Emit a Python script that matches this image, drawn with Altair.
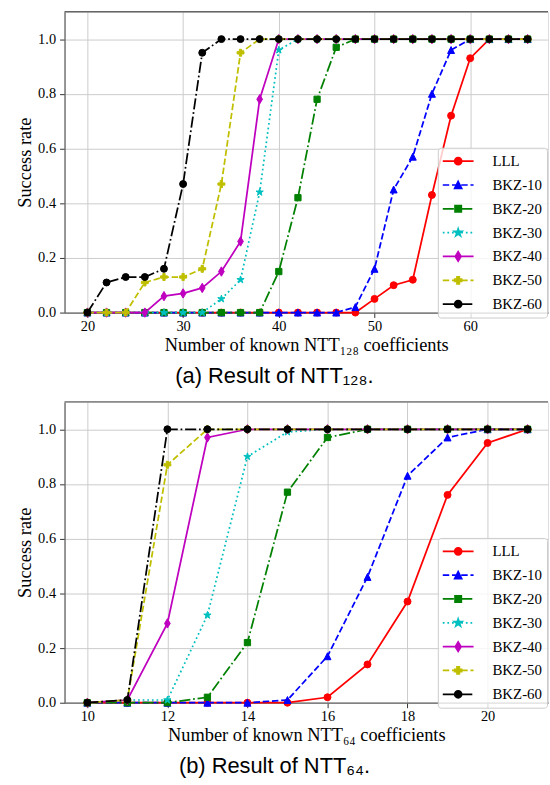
import math
import altair as alt
import pandas as pd

# ---------------- data ----------------
SERIES = ["LLL", "BKZ-10", "BKZ-20", "BKZ-30", "BKZ-40", "BKZ-50", "BKZ-60"]

X_128 = [20, 22, 24, 26, 28, 30, 32, 34, 36, 38, 40, 42, 44, 46, 48, 50, 52, 54, 56, 58, 60, 62, 64, 66]
A_LLL = [0, 0, 0, 0, 0, 0, 0, 0, 0, 0, 0, 0, 0, 0, 0, 0.05, 0.10, 0.12, 0.43, 0.72, 0.93, 1.0, 1.0, 1.0]
A_BKZ10 = [0, 0, 0, 0, 0, 0, 0, 0, 0, 0, 0, 0, 0, 0, 0.02, 0.16, 0.45, 0.57, 0.80, 0.96, 1.0, 1.0, 1.0, 1.0]
A_BKZ20 = [0, 0, 0, 0, 0, 0, 0, 0, 0, 0, 0.15, 0.42, 0.78, 0.97, 1.0, 1.0, 1.0, 1.0, 1.0, 1.0, 1.0, 1.0, 1.0, 1.0]
A_BKZ30 = [0, 0, 0, 0, 0, 0, 0, 0.05, 0.12, 0.44, 0.96, 1.0, 1.0, 1.0, 1.0, 1.0, 1.0, 1.0, 1.0, 1.0, 1.0, 1.0, 1.0, 1.0]
A_BKZ40 = [0, 0, 0, 0, 0.06, 0.07, 0.09, 0.15, 0.26, 0.78, 1.0, 1.0, 1.0, 1.0, 1.0, 1.0, 1.0, 1.0, 1.0, 1.0, 1.0, 1.0, 1.0, 1.0]
A_BKZ50 = [0, 0, 0, 0.11, 0.13, 0.13, 0.16, 0.47, 0.95, 1.0, 1.0, 1.0, 1.0, 1.0, 1.0, 1.0, 1.0, 1.0, 1.0, 1.0, 1.0, 1.0, 1.0, 1.0]
A_BKZ60 = [0, 0.11, 0.13, 0.13, 0.16, 0.47, 0.95, 1.0, 1.0, 1.0, 1.0, 1.0, 1.0, 1.0, 1.0, 1.0, 1.0, 1.0, 1.0, 1.0, 1.0, 1.0, 1.0, 1.0]

X_64 = [10, 11, 12, 13, 14, 15, 16, 17, 18, 19, 20, 21]
B_LLL = [0, 0, 0, 0, 0, 0, 0.02, 0.14, 0.37, 0.76, 0.95, 1.0]
B_BKZ10 = [0, 0, 0, 0, 0, 0.01, 0.17, 0.46, 0.83, 0.97, 1.0, 1.0]
B_BKZ20 = [0, 0, 0, 0.02, 0.22, 0.77, 0.97, 1.0, 1.0, 1.0, 1.0, 1.0]
B_BKZ30 = [0, 0.01, 0.01, 0.32, 0.90, 0.99, 1.0, 1.0, 1.0, 1.0, 1.0, 1.0]
B_BKZ40 = [0, 0.01, 0.29, 0.97, 1.0, 1.0, 1.0, 1.0, 1.0, 1.0, 1.0, 1.0]
B_BKZ50 = [0, 0.01, 0.87, 1.0, 1.0, 1.0, 1.0, 1.0, 1.0, 1.0, 1.0, 1.0]
B_BKZ60 = [0, 0.01, 1.0, 1.0, 1.0, 1.0, 1.0, 1.0, 1.0, 1.0, 1.0, 1.0]

X_TICKS_128 = [20, 30, 40, 50, 60]
X_TICKS_64 = [10, 12, 14, 16, 18, 20]
Y_TICKS = [0.0, 0.2, 0.4, 0.6, 0.8, 1.0]

TITLE_X_128 = "Number of known NTT\u2081\u2082\u2088 coefficients"
TITLE_X_64 = "Number of known NTT\u2086\u2084 coefficients"
CAPTION_128 = "(a) Result of NTT\u2081\u2082\u2088."
CAPTION_64 = "(b) Result of NTT\u2086\u2084."
Y_TITLE = "Success rate"

# ---------------- styles ----------------
COLORS = ["#ff0000", "#0000ff", "#008000", "#00bfbf", "#bf00bf", "#bfbf00", "#000000"]
LINESTYLES = ["solid", "dashed", "dashdot", "dotted", "solid", "dashed", "dashdot"]
MARKERS = ["circle", "triangle", "square", "star", "thin_diamond", "plus", "circle"]
DASH_PX = {"solid": None, "dashed": [6.5, 2.8], "dashdot": [11.2, 2.8, 1.75, 2.8], "dotted": [1.75, 2.9]}

LW = 1.75
PT_R = 3.5          # marker radius in px
PT_SIZE = (2 * PT_R) ** 2
LEG_SIZE = 225      # legend symbol size -> scale 7.5 px per unit
LEG_K = math.sqrt(LEG_SIZE) / 2
LEG_LEN = 31.0

SERIF = "Liberation Serif"
SANS = "Liberation Sans"

W, H = 487, 303


def marker_pts(kind):
    if kind == "triangle":
        return [(0, -1), (1, 1), (-1, 1)]
    if kind == "square":
        return [(-0.9, -0.9), (0.9, -0.9), (0.9, 0.9), (-0.9, 0.9)]
    if kind == "star":
        pts = []
        for i in range(10):
            r = 1.1 if i % 2 == 0 else 1.1 * 0.381966
            a = math.radians(-90 + 36 * i)
            pts.append((r * math.cos(a), r * math.sin(a)))
        return pts
    if kind == "thin_diamond":
        return [(0, -1.35), (0.82, 0), (0, 1.35), (-0.82, 0)]
    if kind == "plus":
        t = 1 / 3
        return [(-t, -1), (t, -1), (t, -t), (1, -t), (1, t), (t, t), (t, 1), (-t, 1),
                (-t, t), (-1, t), (-1, -t), (-t, -t)]
    return None


def poly_path(pts, s):
    return "M" + "L".join(f"{x * s:.3f},{y * s:.3f}" for x, y in pts) + "Z"


def circle_path(r):
    return f"M{r:.3f},0A{r:.3f},{r:.3f} 0 1,1 {-r:.3f},0A{r:.3f},{r:.3f} 0 1,1 {r:.3f},0Z"


def marker_shape(kind):
    if kind == "circle":
        return "circle"
    return poly_path(marker_pts(kind), 1.0)


def dash_segments(pattern, length):
    if pattern is None:
        return [(0.0, length)]
    segs, pos, i, on = [], 0.0, 0, True
    while pos < length:
        d = pattern[i % len(pattern)]
        end = min(pos + d, length)
        if on:
            segs.append((pos, end))
        pos += d
        on = not on
        i += 1
    return segs


def legend_path(kind, style):
    half = LEG_LEN / 2
    parts = []
    for a, b in dash_segments(DASH_PX[style], LEG_LEN):
        parts.append(f"M{(a - half) / LEG_K:.3f},0H{(b - half) / LEG_K:.3f}")
    s = PT_R / LEG_K
    if kind == "circle":
        parts.append(circle_path(s))
    else:
        parts.append(poly_path(marker_pts(kind), s))
    return "".join(parts)


LEGEND_SHAPES = [legend_path(m, ls) for m, ls in zip(MARKERS, LINESTYLES)]


def make_df(xs, ys_list):
    rows = []
    for s, ys in zip(SERIES, ys_list):
        for x, y in zip(xs, ys):
            rows.append({"x": x, "y": y, "series": s})
    return pd.DataFrame(rows)


df_a = make_df(X_128, [A_LLL, A_BKZ10, A_BKZ20, A_BKZ30, A_BKZ40, A_BKZ50, A_BKZ60])
df_b = make_df(X_64, [B_LLL, B_BKZ10, B_BKZ20, B_BKZ30, B_BKZ40, B_BKZ50, B_BKZ60])

AXIS_COMMON = dict(
    grid=True, gridColor="#cccccc", gridWidth=1,
    domainColor="#666666", domainWidth=1.3,
    tickColor="#333333", tickSize=5, tickWidth=1,
    labelFont=SERIF, labelFontSize=14.5, labelColor="black",
    titleFont=SERIF, titleFontSize=18.5, titleFontWeight="normal", titleColor="black",
)


def panel(df, xdomain, xticks, xtitle, caption):
    leg = alt.Legend(
        title=None, orient="none", legendX=376, legendY=137, direction="vertical",
        labelFont=SERIF, labelFontSize=15, labelColor="black",
        symbolSize=LEG_SIZE, symbolStrokeWidth=LW, symbolOffset=7, labelOffset=26,
        rowPadding=7, padding=5, strokeColor="#cccccc", fillColor="rgba(255,255,255,0.8)",
        cornerRadius=3, labelLimit=200,
    )
    base = alt.Chart(df).encode(
        x=alt.X("x:Q", scale=alt.Scale(domain=xdomain, nice=False, zero=False),
                axis=alt.Axis(values=xticks, format="d", title=xtitle,
                              labelPadding=2, titlePadding=3, **AXIS_COMMON)),
        y=alt.Y("y:Q", scale=alt.Scale(domain=[0, 1.1], nice=False, zero=False),
                axis=alt.Axis(values=Y_TICKS, format=".1f", title=Y_TITLE,
                              labelPadding=4, titlePadding=3, **AXIS_COMMON)),
    )
    layers = []
    for s, c, ls, m in zip(SERIES, COLORS, LINESTYLES, MARKERS):
        sub = base.transform_filter(alt.datum.series == s)
        lkw = dict(color=c, strokeWidth=LW, opacity=1)
        if DASH_PX[ls] is not None:
            lkw["strokeDash"] = DASH_PX[ls]
        layers.append(sub.mark_line(**lkw))
        layers.append(sub.mark_point(shape=marker_shape(m), filled=True, fill=c, stroke=c,
                                     strokeWidth=1, size=PT_SIZE, opacity=1))
    dummy = base.transform_filter("datum.y > 5").mark_point(
        filled=True, size=LEG_SIZE, strokeWidth=LW, opacity=1
    ).encode(
        fill=alt.Fill("series:N", scale=alt.Scale(domain=SERIES, range=COLORS), legend=leg),
        stroke=alt.Stroke("series:N", scale=alt.Scale(domain=SERIES, range=COLORS), legend=leg),
        shape=alt.Shape("series:N", scale=alt.Scale(domain=SERIES, range=LEGEND_SHAPES), legend=leg),
    )
    layers.append(dummy)
    top_rule = alt.Chart(alt.Data(values=[{"a": 1}])).mark_rule(
        color="#666666", strokeWidth=1.3
    ).encode(x=alt.value(0), x2=alt.value(W), y=alt.value(0))
    layers.append(top_rule)
    return alt.layer(*layers).properties(
        width=W, height=H,
        title=alt.TitleParams(caption, orient="bottom", anchor="middle", font=SANS,
                              fontSize=22, fontWeight="normal", color="black",
                              offset=12, dx=-32),
    )


top = panel(df_a, [17.61, 68.13], X_TICKS_128, TITLE_X_128, CAPTION_128)
bottom = panel(df_b, [9.43, 21.51], X_TICKS_64, TITLE_X_64, CAPTION_64)

chart = alt.vconcat(top, bottom, spacing=12).resolve_scale(
    fill="independent", stroke="independent", shape="independent"
).properties(
    padding={"left": 15, "top": 7, "right": 0, "bottom": 0}
).configure_view(stroke=None).configure(background="white")

chart.save("out.html", embed_options={"renderer": "svg", "actions": False})
